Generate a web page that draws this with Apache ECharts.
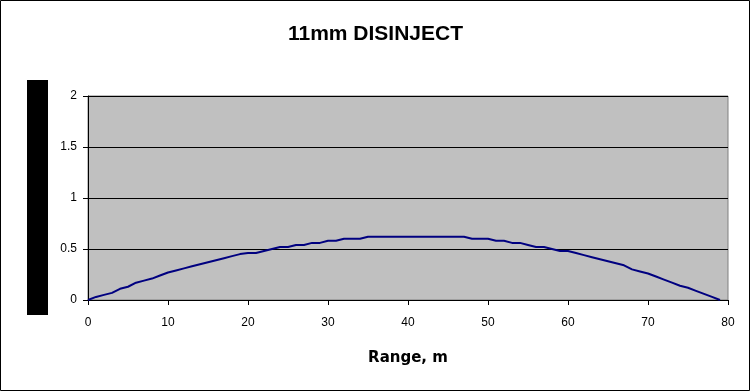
<!DOCTYPE html>
<html><head><meta charset="utf-8">
<script src="https://cdn.jsdelivr.net/npm/echarts@6/dist/echarts.min.js"></script>
<style>html,body{margin:0;padding:0;background:#fff}#c{width:751px;height:392px}</style>
</head><body><div id="c"></div>
<script>
const titleText = '11mm DISINJECT';
const xName = 'Range, m';
const rangeM = [0,1,2,3,4,5,6,7,8,9,10,11,12,13,14,15,16,17,18,19,20,21,22,23,24,25,26,27,28,29,30,31,32,33,34,35,36,37,38,39,40,41,42,43,44,45,46,47,48,49,50,51,52,53,54,55,56,57,58,59,60,61,62,63,64,65,66,67,68,69,70,71,72,73,74,75,76,77,78,79];
const heightV = [0,0.03,0.05,0.07,0.11,0.13,0.17,0.19,0.21,0.24,0.27,0.29,0.31,0.33,0.35,0.37,0.39,0.41,0.43,0.45,0.46,0.46,0.48,0.50,0.52,0.52,0.54,0.54,0.56,0.56,0.58,0.58,0.60,0.60,0.60,0.62,0.62,0.62,0.62,0.62,0.62,0.62,0.62,0.62,0.62,0.62,0.62,0.62,0.60,0.60,0.60,0.58,0.58,0.56,0.56,0.54,0.52,0.52,0.50,0.48,0.48,0.46,0.44,0.42,0.40,0.38,0.36,0.34,0.30,0.28,0.26,0.23,0.20,0.17,0.14,0.12,0.09,0.06,0.03,0];

const chart = echarts.init(document.getElementById('c'), null, {renderer:'canvas'});
const font = 'Liberation Sans, Arial, sans-serif';
chart.setOption({
  animation:false,
  backgroundColor:'#fff',
  title:{text:titleText,left:'center',top:19,textStyle:{fontFamily:font,fontSize:21,fontWeight:'bold',color:'#000'}},
  grid:{left:88,right:23,top:96,bottom:92,show:true,backgroundColor:'#c0c0c0',borderColor:'#808080',borderWidth:1},
  xAxis:{type:'value',min:0,max:80,interval:10,name:xName,nameLocation:'middle',nameGap:51,
    nameTextStyle:{fontFamily:'DejaVu Sans, sans-serif',fontSize:15,fontWeight:'bold',color:'#000'},
    axisLine:{onZero:false,lineStyle:{color:'#000',width:1}},
    axisTick:{show:true,length:5,inside:false,lineStyle:{color:'#000'}},
    axisLabel:{fontFamily:font,fontSize:12,color:'#000',margin:17},
    splitLine:{show:false}},
  yAxis:{type:'value',min:0,max:2,interval:0.5,
    axisLine:{show:true,lineStyle:{color:'#000',width:1}},
    axisTick:{show:true,length:5,lineStyle:{color:'#000'}},
    axisLabel:{fontFamily:font,fontSize:12,color:'#000',margin:11},
    splitLine:{show:true,lineStyle:{color:'#000',width:1}}},
  graphic:[
    {type:'rect',shape:{x:0.5,y:0.5,width:749,height:390},style:{fill:'none',stroke:'#000',lineWidth:1},z:100},
    {type:'rect',shape:{x:27,y:80,width:21,height:235},style:{fill:'#000'},z:100}
  ],
  series:[{type:'line',data:rangeM.map((x,i)=>[x,heightV[i]]),showSymbol:false,
    lineStyle:{color:'#000080',width:2},itemStyle:{color:'#000080'}}]
});
</script></body></html>
